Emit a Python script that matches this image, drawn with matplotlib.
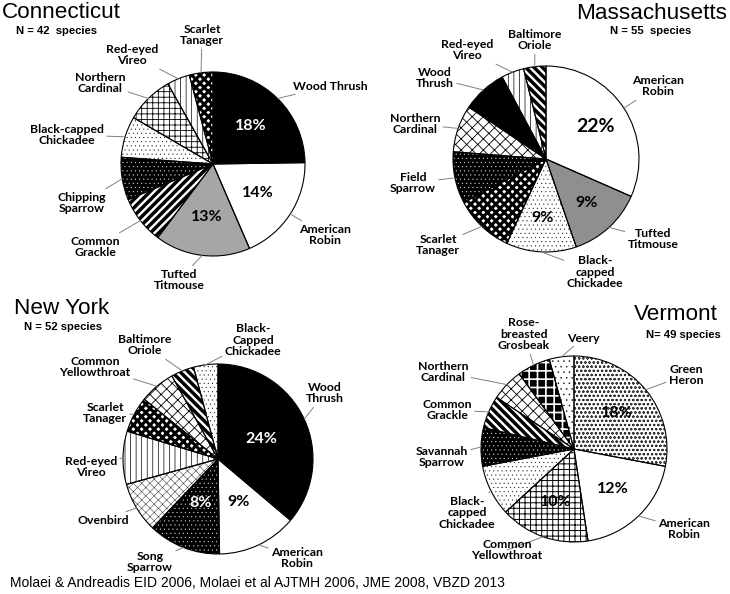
import numpy as np
import matplotlib
matplotlib.use("Agg")
import matplotlib.pyplot as plt

W, H = 730, 594          # canvas in pixels (figure drawn at dpi 100)

# ── data: slice share per state, clockwise from 12 o'clock ─────────────────
CT_SPECIES = ["Wood Thrush", "American\nRobin", "Tufted\nTitmouse", "Common\nGrackle",
              "Chipping\nSparrow", "Black-capped\nChickadee", "Northern\nCardinal",
              "Red-eyed\nVireo", "Scarlet\nTanager"]
CT_SHARE = [18.5, 14.0, 12.5, 6.3, 5.6, 5.4, 6.3, 3.0, 3.1]
CT_PCT = ["18%", "14%", "13%", "", "", "", "", "", ""]

MA_SPECIES = ["American\nRobin", "Tufted\nTitmouse", "Black-\ncapped\nChickadee",
              "Scarlet\nTanager", "Field\nSparrow", "Northern\nCardinal",
              "Wood\nThrush", "Red-eyed\nVireo", "Baltimore\nOriole"]
MA_SHARE = [22.0, 9.15, 8.5, 7.2, 6.25, 5.7, 5.4, 2.75, 2.7]
MA_PCT = ["22%", "9%", "9%", "", "", "", "", "", ""]

NY_SPECIES = ["Wood\nThrush", "American\nRobin", "Song\nSparrow", "Ovenbird",
              "Red-eyed\nVireo", "Scarlet\nTanager", "Common\nYellowthroat",
              "Baltimore\nOriole", "Black-\nCapped\nChickadee"]
NY_SHARE = [24.0, 9.0, 8.2, 5.7, 6.0, 4.05, 4.05, 2.6, 2.75]
NY_PCT = ["24%", "9%", "8%", "", "", "", "", "", ""]

VT_SPECIES = ["Green\nHeron", "American\nRobin", "Common\nYellowthroat",
              "Black-\ncapped\nChickadee", "Savannah\nSparrow", "Common\nGrackle",
              "Northern\nCardinal", "Rose-\nbreasted\nGrosbeak", "Veery"]
VT_SHARE = [18.0, 12.6, 10.0, 5.7, 4.3, 3.65, 3.6, 3.7, 2.75]
VT_PCT = ["18%", "12%", "10%", "", "", "", "", "", ""]

STATES = ["Connecticut", "Massachusetts", "New York", "Vermont"]
N_TEXT = ["N = 42  species", "N = 55  species", "N = 52 species", "N= 49 species"]

# ── fill patterns ──────────────────────────────────────────────────────────
PATTERNS = {
    "black":      dict(face="black",   hcol="black", hatch=None,   hlw=1.0),
    "white":      dict(face="white",   hcol="black", hatch=None,   hlw=1.0),
    "gray":       dict(face="#a6a6a6", hcol="black", hatch=None,   hlw=1.0),
    "gray2":      dict(face="#8f8f8f", hcol="black", hatch=None,   hlw=1.0),
    "checker":    dict(face="white",   hcol="black", hatch="xxxx", hlw=2.2),
    "dots":       dict(face="white",   hcol="black", hatch="....", hlw=0.2),
    "dots_black": dict(face="black",   hcol="white", hatch="....", hlw=0.2),
    "stripes_up": dict(face="white",   hcol="black", hatch="////", hlw=2.5),
    "stripes_dn": dict(face="white",   hcol="black", hatch="\\\\\\\\", hlw=2.5),
    "vdash":      dict(face="white",   hcol="black", hatch="|||",  hlw=0.5),
    "brick":      dict(face="white",   hcol="black", hatch="+++",  hlw=0.6),
    "diag_grid":  dict(face="white",   hcol="black", hatch="xxx",  hlw=0.6),
    "grid":       dict(face="white",   hcol="black", hatch="+++",  hlw=0.7),
    "grid_black": dict(face="black",   hcol="white", hatch="++",   hlw=1.2),
    "zigzag":     dict(face="white",   hcol="#444444", hatch="xxxx", hlw=0.4),
    "heron":      dict(face="white",   hcol="#333333", hatch="oooo", hlw=0.5),
    "veery":      dict(face="white",   hcol="black", hatch="...",  hlw=0.3),
}
CT_FILL = ["black", "white", "gray", "stripes_up", "dots_black", "dots", "brick", "vdash", "checker"]
MA_FILL = ["white", "gray2", "dots", "checker", "dots_black", "diag_grid", "black", "vdash", "stripes_dn"]
NY_FILL = ["black", "white", "dots_black", "zigzag", "vdash", "checker", "diag_grid", "stripes_dn", "dots"]
VT_FILL = ["heron", "white", "grid", "dots", "dots_black", "stripes_dn", "diag_grid", "grid_black", "veery"]

# ── layout (pixel coords, y from top) ─────────────────────────────────────
PIE_GEO = [(213, 164, 92), (546, 159, 93), (218, 459, 95), (574, 449, 93)]
TITLE_XY = [(2, 18.3, "left"), (727, 19, "right"), (14, 314, "left"), (718, 320, "right")]
NTEXT_XY = [(57, 34.3), (651, 34), (63, 330), (683, 338)]
LABEL_XY = [
    [(330, 86), (325, 235), (179, 280), (95, 247), (82, 203), (67, 135), (100, 83), (132, 55), (202, 35)],
    [(658, 86), (653, 239), (595, 272), (438, 245), (413, 183), (415, 124), (435, 78), (467, 50), (535, 40)],
    [(325, 393), (297, 558), (150, 562), (103, 520), (91, 467), (105, 413), (95, 367), (145, 345), (253, 340)],
    [(686, 375), (684, 529), (507, 550), (467, 513), (442, 457), (447, 410), (443, 372), (524, 334), (583, 338)],
]
PCT_R = [0.58, 0.64, 0.5, 0.6]
PCT_SIZE = [[11.5, 11.5, 11.5], [14, 11.5, 11.5], [11.5, 11.5, 11.5], [11.5, 11.5, 11.5]]

LBL_FONT = dict(family=["Lato", "DejaVu Sans"], fontweight="bold", fontsize=8.8)
ARIAL = ["Liberation Sans", "DejaVu Sans"]


def set_hatch_lw(p, lw):
    if hasattr(p, "set_hatch_linewidth"):
        p.set_hatch_linewidth(lw)
    else:
        p._hatch_linewidth = lw


fig = plt.figure(figsize=(W / 100, H / 100), dpi=100)
fig.patch.set_facecolor("white")
ax = fig.add_axes([0, 0, 1, 1])

data = [(CT_SPECIES, CT_SHARE, CT_PCT, CT_FILL),
        (MA_SPECIES, MA_SHARE, MA_PCT, MA_FILL),
        (NY_SPECIES, NY_SHARE, NY_PCT, NY_FILL),
        (VT_SPECIES, VT_SHARE, VT_PCT, VT_FILL)]

for i, (species, share, pct, fills) in enumerate(data):
    cx, cy, r = PIE_GEO[i]
    c = (cx, H - cy)
    wedges, _ = ax.pie(share, startangle=90, counterclock=False, center=c,
                       radius=r, wedgeprops=dict(linewidth=0))
    for w, f in zip(wedges, fills):
        st = PATTERNS[f]
        w.set_facecolor(st["face"])
        w.set_edgecolor(st["hcol"])
        if st["hatch"]:
            w.set_hatch(st["hatch"])
            set_hatch_lw(w, st["hlw"])
    # outlines
    ax.pie(share, startangle=90, counterclock=False, center=c, radius=r,
           wedgeprops=dict(fill=False, edgecolor="black", linewidth=0.8))

    for k, (w, lab, (tx, ty), p, f) in enumerate(zip(wedges, species, LABEL_XY[i], pct, fills)):
        mid = np.deg2rad((w.theta1 + w.theta2) / 2)
        ax.annotate(lab, xy=(c[0] + r * np.cos(mid), c[1] + r * np.sin(mid)),
                    xytext=(tx, H - ty), ha="center", va="center",
                    linespacing=1.1, **LBL_FONT,
                    arrowprops=dict(arrowstyle="-", color="#808080", lw=0.7,
                                    shrinkA=0, shrinkB=0))
        if p:
            ax.text(c[0] + PCT_R[i] * r * np.cos(mid), c[1] + PCT_R[i] * r * np.sin(mid),
                    p, ha="center", va="center", family=["Lato", "DejaVu Sans"],
                    fontweight="bold", fontsize=PCT_SIZE[i][k],
                    color="white" if PATTERNS[f]["face"] == "black" else "black")

    tx, ty, ha = TITLE_XY[i]
    ax.text(tx, H - ty, STATES[i], ha=ha, va="baseline", family=ARIAL, fontsize=16.2)
    nx, ny = NTEXT_XY[i]
    ax.text(nx, H - ny, N_TEXT[i], ha="center", va="baseline", family=ARIAL,
            fontweight="bold", fontsize=8.1)

ax.text(10, H - 583, "Molaei & Andreadis EID 2006, Molaei et al AJTMH 2006, JME 2008, VBZD 2013",
        ha="left", va="center", family=ARIAL, fontsize=10)

ax.set_xlim(0, W)
ax.set_ylim(0, H)
ax.set_aspect("equal")
ax.axis("off")

fig.savefig("out.png", dpi=100, facecolor="white")
plt.close(fig)
